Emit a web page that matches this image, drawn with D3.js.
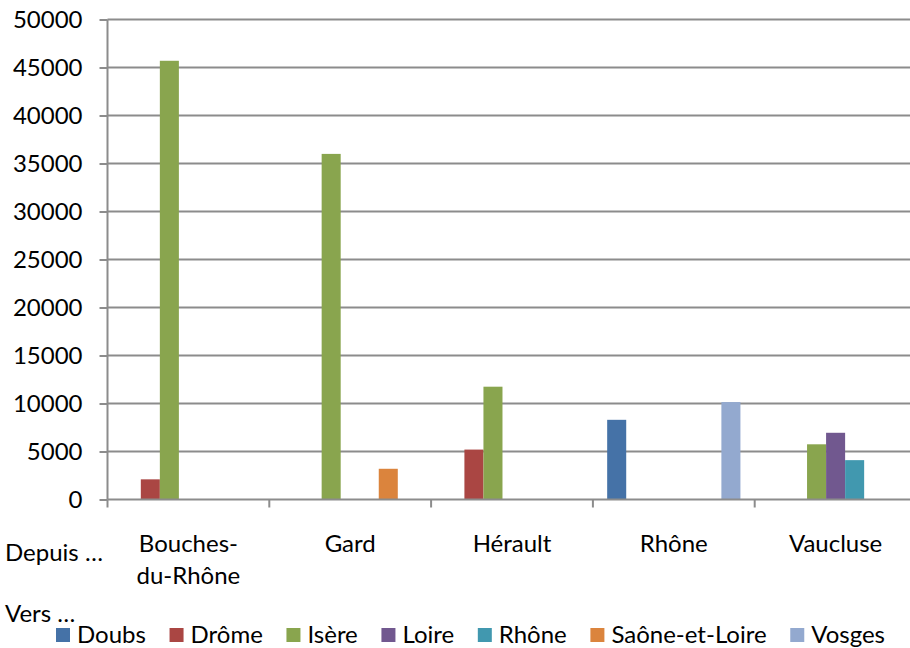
<!DOCTYPE html>
<html>
<head>
<meta charset="utf-8">
<script src="https://cdn.jsdelivr.net/npm/d3@7"></script>
<style>
  html, body { margin: 0; padding: 0; background: #fff; }
  svg { display: block; font-family: Lato, "Open Sans", sans-serif; }
</style>
</head>
<body>
<svg id="chart" width="910" height="648"></svg>
<script>
// Departures (categories) and destinations (series)
const categories = ["Bouches-du-Rhône", "Gard", "Hérault", "Rhône", "Vaucluse"];
const categoryLines = [["Bouches-", "du-Rhône"], ["Gard"], ["Hérault"], ["Rhône"], ["Vaucluse"]];
const series = ["Doubs", "Drôme", "Isère", "Loire", "Rhône", "Saône-et-Loire", "Vosges"];
const colors = ["#4572A7", "#AA4643", "#89A54E", "#71588F", "#4198AF", "#DB843D", "#93A9CF"];

// One array per destination, values in category order (0 = no flow)
const doubs        = [0,     0,     0,     8300,  0];
const drome        = [2100,  0,     5200,  0,     0];
const isere        = [45700, 36000, 11750, 0,     5750];
const loire        = [0,     0,     0,     0,     6950];
const rhone        = [0,     0,     0,     0,     4100];
const saoneEtLoire = [0,     3200,  0,     0,     0];
const vosges       = [0,     0,     0,     10150, 0];
const values = [doubs, drome, isere, loire, rhone, saoneEtLoire, vosges];

const yTicks = [0, 5000, 10000, 15000, 20000, 25000, 30000, 35000, 40000, 45000, 50000];

const svg = d3.select("#chart");
const plotLeft = 107.5, plotRight = 916.5, plotTop = 19.5, plotBottom = 499.5;
const gridColor = "#8c8c8c";
const fontSize = 24;

const x = d3.scaleBand().domain(categories).range([plotLeft, plotRight]).padding(0);
const xs = d3.scaleBand().domain(series).range([0, x.bandwidth()])
  .paddingInner(0).paddingOuter(0.75);
const y = d3.scaleLinear().domain([0, 50000]).range([plotBottom, plotTop]);

// Horizontal gridlines
svg.append("g").selectAll("line").data(yTicks.filter(d => d > 0)).join("line")
  .attr("x1", plotLeft).attr("x2", plotRight)
  .attr("y1", d => y(d)).attr("y2", d => y(d))
  .attr("stroke", gridColor).attr("stroke-width", 2);

// Bars
const groups = svg.append("g").selectAll("g").data(series).join("g")
  .attr("fill", (d, i) => colors[i]);
groups.selectAll("rect")
  .data((s, si) => categories.map((c, ci) => ({ c, s, v: values[si][ci] })).filter(d => d.v > 0))
  .join("rect")
  .attr("x", d => x(d.c) + xs(d.s))
  .attr("width", xs.bandwidth())
  .attr("y", d => y(d.v))
  .attr("height", d => y(0) - y(d.v));

// Y axis
const yAxis = svg.append("g").attr("transform", `translate(${plotLeft},0)`)
  .call(d3.axisLeft(y).tickValues(yTicks).tickSize(8).tickPadding(17).tickFormat(d3.format("d")));
yAxis.select(".domain").attr("stroke", gridColor).attr("stroke-width", 2)
  .attr("d", `M0,${plotTop}V${plotBottom}`);
yAxis.selectAll(".tick line").attr("stroke", gridColor).attr("stroke-width", 2);
yAxis.selectAll(".tick text").attr("font-size", fontSize).attr("fill", "#000")
  .attr("font-family", "Lato, sans-serif").attr("dy", "0.35em");

// X axis: line at zero with ticks on category boundaries
const xAxis = svg.append("g").attr("transform", `translate(0,${plotBottom})`);
xAxis.append("line").attr("x1", plotLeft).attr("x2", plotRight)
  .attr("stroke", gridColor).attr("stroke-width", 2);
xAxis.selectAll("line.tk").data(categories).join("line").attr("class", "tk")
  .attr("x1", d => x(d)).attr("x2", d => x(d)).attr("y1", 0).attr("y2", 8)
  .attr("stroke", gridColor).attr("stroke-width", 2);

// Category labels
const labels = svg.append("g").attr("font-size", fontSize).attr("fill", "#000").attr("text-anchor", "middle");
labels.selectAll("text").data(categories).join("text")
  .attr("x", d => x(d) + x.bandwidth() / 2)
  .attr("y", 551.5)
  .selectAll("tspan").data((d, i) => categoryLines[i]).join("tspan")
  .attr("x", function () { return d3.select(this.parentNode).attr("x"); })
  .attr("dy", (d, i) => i === 0 ? 0 : 32.6)
  .text(d => d);

svg.append("text").attr("x", 5).attr("y", 560.7).attr("font-size", fontSize).attr("fill", "#000").text("Depuis …");
svg.append("text").attr("x", 5).attr("y", 621.7).attr("font-size", fontSize).attr("fill", "#000").text("Vers …");

// Legend: swatch + label, spread between x=56 and x=885
const legend = svg.append("g");
const swatch = 14, swatchGap = 7;
const items = series.map((s, i) => {
  const t = legend.append("text").attr("y", 642.7).attr("font-size", fontSize).attr("fill", "#000").text(s);
  return { s, i, t, w: t.node().getComputedTextLength() };
});
const totalW = d3.sum(items, d => d.w) + items.length * (swatch + swatchGap);
const itemGap = (885 - 56 - totalW) / (items.length - 1);
let lx = 56;
items.forEach(d => {
  legend.append("rect").attr("x", lx).attr("y", 628).attr("width", swatch).attr("height", swatch)
    .attr("fill", colors[d.i]);
  d.t.attr("x", lx + swatch + swatchGap);
  lx += swatch + swatchGap + d.w + itemGap;
});
</script>
</body>
</html>
